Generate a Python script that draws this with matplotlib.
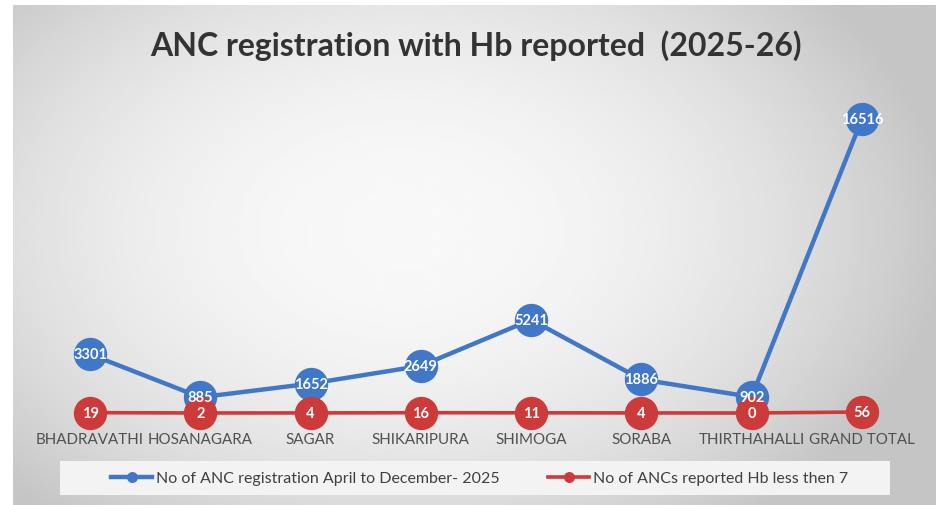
import numpy as np
import matplotlib
matplotlib.use('Agg')
import matplotlib.pyplot as plt
from matplotlib.patches import Rectangle

# Daten
blocks = ['BHADRAVATHI', 'HOSANAGARA', 'SAGAR', 'SHIKARIPURA', 'SHIMOGA',
          'SORABA', 'THIRTHAHALLI', 'GRAND TOTAL']
anc_registered = [3301, 885, 1652, 2649, 5241, 1886, 902, 16516]
hb_below_7 = [19, 2, 4, 16, 11, 4, 0, 56]

label_blue = 'No of ANC registration April to December- 2025'
label_red = 'No of ANCs reported Hb less then 7'
title = 'ANC registration with Hb reported  (2025-26)'

blue = '#4177c7'
red = '#cc3a3a'

plt.rcParams['font.family'] = ['Lato', 'DejaVu Sans']

fig = plt.figure(figsize=(9.37, 5.06), dpi=100)

# Hintergrund mit grauem Verlauf
bg = fig.add_axes([13 / 937, 0, 1 - 13 / 937, 1 - 6 / 506])
yy, xx = np.mgrid[0:1:200j, 0:1:400j]
r2 = ((xx - 0.42) / 0.72) ** 2 + ((yy - 0.55) / 0.9) ** 2
shade = np.clip(0.975 - 0.3 * r2, 0.77, 0.98)
bg.imshow(shade, cmap='gray', vmin=0, vmax=1, aspect='auto',
          extent=[0, 1, 0, 1], origin='lower')
bg.axis('off')

# heller Kasten hinter der Legende
fig.patches.append(Rectangle((60 / 937, 10 / 506), 830 / 937, 34 / 506,
                             transform=fig.transFigure, facecolor='#f3f3f3',
                             edgecolor='none', zorder=1))

ax = fig.add_axes([35 / 937, 92 / 506, 882 / 937, 322 / 506])
ax.patch.set_alpha(0)
x = np.arange(len(blocks))

ax.plot(x, anc_registered, color=blue, linewidth=3.2, marker='o',
        markersize=23, markerfacecolor=blue, markeredgecolor=blue,
        label=label_blue, zorder=3, clip_on=False)
ax.plot(x, hb_below_7, color=red, linewidth=2.6, marker='o',
        markersize=23, markerfacecolor=red, markeredgecolor=red,
        label=label_red, zorder=4, clip_on=False)

for xi, v in zip(x, anc_registered):
    ax.text(xi, v, str(v), color='white', fontsize=10.5, fontweight='bold',
            ha='center', va='center', zorder=5)
for xi, v in zip(x, hb_below_7):
    ax.text(xi, v, str(v), color='white', fontsize=10.5, fontweight='bold',
            ha='center', va='center', zorder=6)

ax.set_xlim(-0.5, len(blocks) - 0.5)
ax.set_ylim(0, 18100)
ax.set_xticks(x)
ax.set_xticklabels(blocks, fontsize=10.9, color='#505050')
ax.tick_params(axis='x', length=0, pad=14)
ax.set_yticks([])
for s in ax.spines.values():
    s.set_visible(False)

fig.text(0.508, 0.909, title, ha='center', va='center', fontsize=23,
         fontweight='bold', color='#333333')

leg = fig.legend(loc='center', bbox_to_anchor=(0.512, 27 / 506),
                 ncol=2, frameon=False, fontsize=11.5, handlelength=2.6,
                 handletextpad=0.25, columnspacing=3.0, markerscale=0.3,
                 borderpad=0, borderaxespad=0)
leg.set_zorder(5)
for t in leg.get_texts():
    t.set_color('#404040')

fig.savefig('out.png', dpi=100)
